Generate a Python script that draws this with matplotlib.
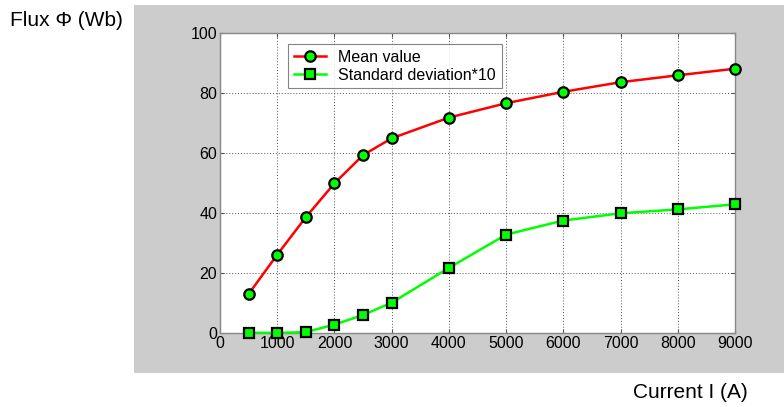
import matplotlib
matplotlib.use("Agg")
import matplotlib.pyplot as plt
from matplotlib.patches import Rectangle

plt.rcParams['font.family'] = ['Liberation Sans', 'DejaVu Sans']

current = [500, 1000, 1500, 2000, 2500, 3000, 4000, 5000, 6000, 7000, 8000, 9000]
mean_value = [13.0, 26.1, 38.6, 49.9, 59.3, 64.9, 71.8, 76.6, 80.4, 83.6, 85.9, 88.1]
std_x10 = [0.1, 0.0, 0.3, 2.8, 6.0, 10.1, 21.7, 32.8, 37.5, 39.9, 41.2, 42.9]
xticks = [0, 1000, 2000, 3000, 4000, 5000, 6000, 7000, 8000, 9000]
yticks = [0, 20, 40, 60, 80, 100]

W, H = 784, 407
fig = plt.figure(figsize=(W/100, H/100), dpi=100)
fig.patches.append(Rectangle((134/W, 1-373/H), (W-134)/W, (373-5)/H,
                             transform=fig.transFigure, facecolor='#cccccc',
                             edgecolor='none', zorder=-10))

ax = fig.add_axes([220/W, 1-333/H, (735-220)/W, (333-33)/H])
ax.set_zorder(5)
ax.set_facecolor('white')
ax.plot(current, mean_value, color='#ff0000', lw=1.8, marker='o', ms=7.5,
        mfc='#00ff00', mec='black', mew=1.6, label='Mean value', clip_on=False, zorder=3)
ax.plot(current, std_x10, color='#00ff00', lw=1.8, marker='s', ms=6.5,
        mfc='#00ff00', mec='black', mew=1.6, label='Standard deviation*10', clip_on=False, zorder=3)

ax.set_xlim(0, 9000)
ax.set_ylim(0, 100)
ax.set_xticks(xticks)
ax.set_yticks(yticks)
ax.tick_params(direction='in', length=3, width=0.8, colors='#555555',
               labelcolor='black', labelsize=11.5, top=True, right=True, pad=2)
ax.grid(True, linestyle=(0, (1, 2)), color='#555555', lw=0.7)
for s in ax.spines.values():
    s.set_color('#888888')
    s.set_linewidth(1.0)

leg = ax.legend(loc='upper left', bbox_to_anchor=((288-220)/515, 1-(44-33)/300),
                fontsize=11.5, frameon=True, fancybox=False, borderaxespad=0,
                handlelength=2.0, borderpad=0.35, labelspacing=0.2, handletextpad=0.8)
leg.get_frame().set_edgecolor('#666666')
leg.get_frame().set_linewidth(0.8)

fig.text(10/W, 1-20/H, 'Flux Φ (Wb)', fontsize=15, ha='left', va='center')
fig.text(748/W, 1-393/H, 'Current I (A)', fontsize=15, ha='right', va='center')

fig.savefig('out.png', dpi=100)
